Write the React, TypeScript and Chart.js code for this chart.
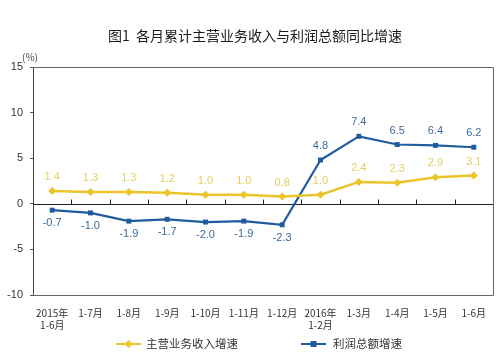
import React, { useEffect, useRef } from "react";
import { Chart, registerables } from "chart.js";
Chart.register(...registerables);

const categories: (string | string[])[] = [
  ["2015年", "1-6月"], "1-7月", "1-8月", "1-9月", "1-10月", "1-11月", "1-12月",
  ["2016年", "1-2月"], "1-3月", "1-4月", "1-5月", "1-6月",
];
const revenueGrowth = [1.4, 1.3, 1.3, 1.2, 1.0, 1.0, 0.8, 1.0, 2.4, 2.3, 2.9, 3.1];
const profitGrowth = [-0.7, -1.0, -1.9, -1.7, -2.0, -1.9, -2.3, 4.8, 7.4, 6.5, 6.4, 6.2];
const yMin = -10;
const yMax = 15;
const yStep = 5;
const seriesNames = ["主营业务收入增速", "利润总额增速"];
const titleText = "图1  各月累计主营业务收入与利润总额同比增速";

const YELLOW = "#EBC42A";
const YELLOW_LABEL = "#E6CE5E";
const BLUE = "#1F5B9E";
const BLUE_LABEL = "#3B6A98";
const CJK = '"Noto Sans CJK SC", "Noto Sans", sans-serif';
const LAT = '"Liberation Sans", Arial, sans-serif';

const decor = {
  id: "decor",
  beforeDraw(chart: any) {
    const { ctx, width, height } = chart;
    ctx.save();
    ctx.fillStyle = "#fff";
    ctx.fillRect(0, 0, width, height);
    ctx.restore();
  },
  beforeDatasetsDraw(chart: any) {
    const { ctx, chartArea, scales } = chart;
    const x = scales.x;
    const y = scales.y;
    ctx.save();
    ctx.strokeStyle = "#666";
    ctx.lineWidth = 1;
    ctx.beginPath();
    ctx.moveTo(chartArea.left, chartArea.top + 0.5);
    ctx.lineTo(chartArea.right + 0.5, chartArea.top + 0.5);
    ctx.lineTo(chartArea.right + 0.5, chartArea.bottom + 0.5);
    ctx.lineTo(chartArea.left, chartArea.bottom + 0.5);
    ctx.stroke();
    const y0 = Math.round(y.getPixelForValue(0)) + 0.5;
    ctx.strokeStyle = "#222";
    ctx.beginPath();
    ctx.moveTo(chartArea.left, y0);
    ctx.lineTo(chartArea.right, y0);
    const n = categories.length;
    for (let i = 1; i < n; i++) {
      const px = Math.round((x.getPixelForValue(i - 1) + x.getPixelForValue(i)) / 2) + 0.5;
      ctx.moveTo(px, y0);
      ctx.lineTo(px, y0 - 5);
    }
    ctx.stroke();
    ctx.restore();
  },
  afterDatasetsDraw(chart: any) {
    const { ctx, scales } = chart;
    const x = scales.x;
    const y = scales.y;
    ctx.save();
    ctx.font = `11px ${LAT}`;
    ctx.textAlign = "center";
    ctx.textBaseline = "middle";
    revenueGrowth.forEach((v, i) => {
      ctx.fillStyle = YELLOW_LABEL;
      ctx.fillText(v.toFixed(1), x.getPixelForValue(i), y.getPixelForValue(v) - 14);
    });
    profitGrowth.forEach((v, i) => {
      ctx.fillStyle = BLUE_LABEL;
      const py = y.getPixelForValue(v);
      ctx.fillText(v.toFixed(1), x.getPixelForValue(i), v < 0 ? py + 13 : py - 14);
    });
    ctx.restore();
  },
  afterDraw(chart: any) {
    const { ctx } = chart;
    ctx.save();
    ctx.fillStyle = "#1a1a1a";
    ctx.font = `14px ${CJK}`;
    ctx.textAlign = "center";
    ctx.textBaseline = "middle";
    ctx.fillText(titleText, 255, 36);
    ctx.font = `10px ${CJK}`;
    ctx.fillStyle = "#444";
    ctx.textAlign = "left";
    ctx.fillText("(%)", 22, 57);

    const ly = 344;
    ctx.lineWidth = 2;
    ctx.strokeStyle = YELLOW;
    ctx.beginPath();
    ctx.moveTo(116, ly);
    ctx.lineTo(141, ly);
    ctx.stroke();
    ctx.fillStyle = YELLOW;
    ctx.beginPath();
    ctx.moveTo(128.5, ly - 4);
    ctx.lineTo(132.5, ly);
    ctx.lineTo(128.5, ly + 4);
    ctx.lineTo(124.5, ly);
    ctx.closePath();
    ctx.fill();
    ctx.strokeStyle = BLUE;
    ctx.beginPath();
    ctx.moveTo(301, ly);
    ctx.lineTo(326, ly);
    ctx.stroke();
    ctx.fillStyle = BLUE;
    ctx.fillRect(310.5, ly - 3, 6, 6);
    ctx.fillStyle = "#333";
    ctx.font = `11.5px ${CJK}`;
    ctx.fillText(seriesNames[0], 146, ly);
    ctx.fillText(seriesNames[1], 333, ly);
    ctx.restore();
  },
};

export default function App() {
  const ref = useRef<HTMLCanvasElement>(null);
  useEffect(() => {
    if (!ref.current) return;
    const chart = new Chart(ref.current, {
      type: "line",
      data: {
        labels: categories as any,
        datasets: [
          {
            label: seriesNames[0],
            data: revenueGrowth,
            borderColor: YELLOW,
            backgroundColor: YELLOW,
            borderWidth: 2.5,
            pointStyle: "rectRot",
            pointRadius: 4,
            pointBorderWidth: 0,
            tension: 0,
          },
          {
            label: seriesNames[1],
            data: profitGrowth,
            borderColor: BLUE,
            backgroundColor: BLUE,
            borderWidth: 2.2,
            pointStyle: "rect",
            pointRadius: 3.5,
            pointBorderWidth: 0,
            tension: 0,
          },
        ],
      },
      options: {
        animation: false,
        responsive: false,
        maintainAspectRatio: false,
        layout: { padding: { left: 0, top: 67, right: 7, bottom: 0 } },
        plugins: {
          legend: { display: false },
          title: { display: false },
          tooltip: { enabled: false },
        },
        scales: {
          x: {
            offset: true,
            grid: { display: false },
            border: { display: false },
            ticks: {
              autoSkip: false,
              maxRotation: 0,
              minRotation: 0,
              padding: 4,
              color: "#333",
              font: { size: 10, family: CJK },
            },
            afterFit(scale: any) {
              scale.height = 65;
            },
          },
          y: {
            min: yMin,
            max: yMax,
            grid: { display: true, drawOnChartArea: false, drawTicks: true, tickLength: 3, color: "#555" },
            border: { display: true, color: "#444" },
            ticks: {
              stepSize: yStep,
              padding: 7,
              color: "#333",
              font: { size: 11, family: LAT },
            },
            afterFit(scale: any) {
              scale.width = 33;
            },
          },
        },
      },
      plugins: [decor],
    });
    return () => chart.destroy();
  }, []);
  return (
    <div style={{ position: "fixed", left: 0, top: 0, width: 500, height: 360 }}>
      <canvas ref={ref} width={500} height={360} style={{ width: 500, height: 360 }} />
    </div>
  );
}
